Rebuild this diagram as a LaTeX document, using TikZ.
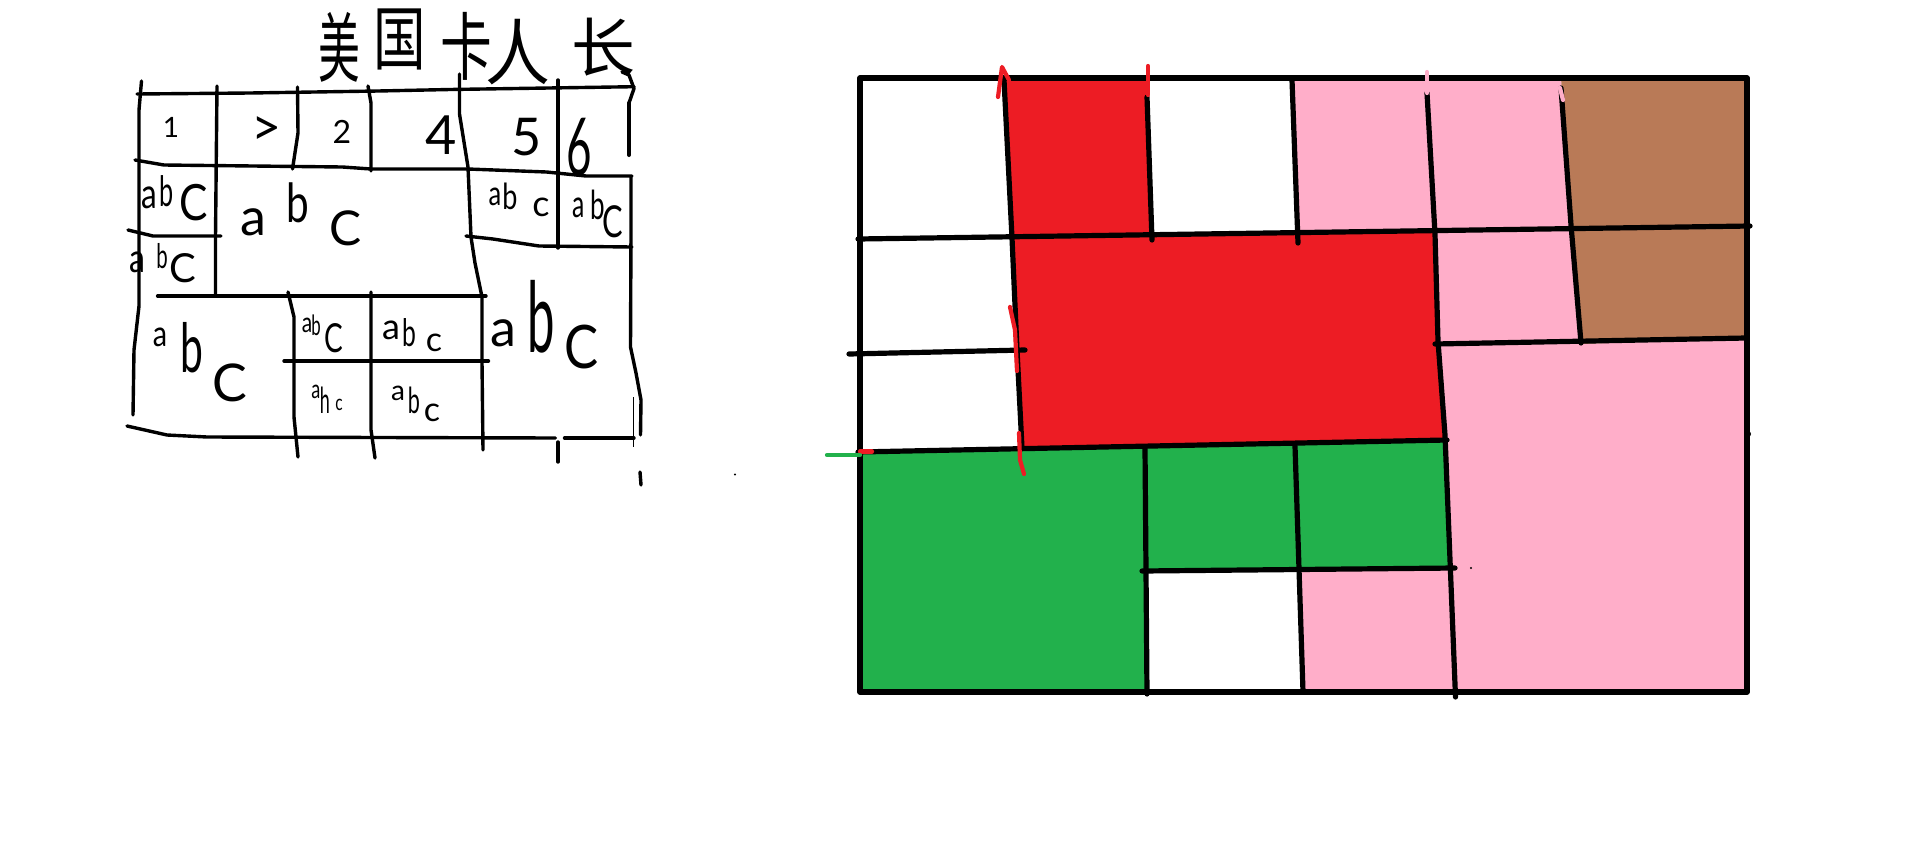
\documentclass[tikz,border=0pt]{standalone}
\usepackage{fontspec}
\usepackage{graphicx}
\setmainfont{Lato}
\newfontfamily\cjk{Noto Sans CJK SC}
\definecolor{pred}{HTML}{ED1C24}
\definecolor{ppink}{HTML}{FFAEC9}
\definecolor{pbrown}{HTML}{B97A57}
\definecolor{pgreen}{HTML}{22B14C}
\newcommand\narrowed[2]{\scalebox{#1}[1]{#2}}
\tikzset{
  ink/.style={black,line width=3.4pt,line cap=round,line join=round},
  thick ink/.style={black,line width=5.2pt,line cap=round,line join=round},
  mark ink/.style={line width=4.2pt,line cap=round,line join=round},
  hand/.style={inner sep=0pt,text=black,font=\fontsize{#1}{#1}\selectfont},
  title/.style={inner sep=0pt,text=black,font=\cjk\fontsize{#1}{#1}\selectfont}
}
\begin{document}
\begin{tikzpicture}[x=1pt,y=-1pt]
\useasboundingbox (0,0) rectangle (1914,841);
\fill[white] (0,0) rectangle (1914,841);

% ---------- left sketch: title
\node[title=76] (t1) at (339,47) {\narrowed{.55}{美}};
\node[title=70] (t2) at (400,39) {\narrowed{.75}{国}};
\node[title=74] (t3) at (466,46) {\narrowed{.7}{卡}};
\node[title=72] (t4) at (518,52) {\narrowed{.9}{人}};
\node[title=64] (t5) at (603,47) {长};

% ---------- left sketch: lines
\draw[ink] (137,94) -- (250,93) -- (378,91) -- (450,89.5) -- (634,86.7);
\draw[ink] (141.5,81) -- (139,110) -- (139,306) -- (134,350) -- (133,415);
\draw[ink] (217,86) -- (215.5,237) -- (215.5,295);
\draw[ink] (297.5,87) -- (298,133) -- (292.5,169);
\draw[ink] (368,86) -- (371,103) -- (371,171);
\draw[ink] (459.5,74) -- (459.5,114) -- (468,167) -- (471,237) -- (475,263) -- (482,297) -- (482,362) -- (483,450);
\draw[ink] (558,80) -- (558,248);
\draw[ink] (622,72) -- (629,75) -- (634,88.5) -- (629,103);
\draw[thick ink,line width=4pt] (629,103) -- (629,155);
\draw[ink] (631,177) -- (631,230) -- (630.5,347) -- (636,373) -- (641,400) -- (640.5,435);
\draw[black,line width=1pt] (633.5,397) -- (633.5,447);
\draw[ink] (640,472) -- (641,485);
\fill[black] (735,474.5) circle (1.2pt);
\draw[ink] (135,160) -- (164,165) -- (342.5,167) -- (371,169) -- (468,169) -- (546.5,172) -- (586,176) -- (632,176);
\draw[ink] (128,230) -- (153,236) -- (221,236);
\draw[ink] (466,236) -- (493,239) -- (539,246) -- (632,247);
\draw[ink] (157.6,296) -- (486,296);
\draw[ink] (288,292) -- (294,317) -- (294,417) -- (298,457);
\draw[ink] (371,292) -- (371,430) -- (375,458);
\draw[ink] (284,361) -- (488.5,361);
\draw[ink] (558,442) -- (558,462);
\draw[ink] (127,426) -- (167,435) -- (207,437) -- (555.5,438);
\draw[ink] (564.5,438) -- (634,438);

% ---------- left sketch: numbers
\node[hand=28] (n1) at (171,127) {1};
\node[hand=52] (n2) at (267,131) {>};
\node[hand=32] (n3) at (342,132) {2};
\node[hand=54] (n4) at (441,135) {4};
\node[hand=52] (n5) at (527,137) {5};
\node[hand=80] (n6) at (579,147) {\narrowed{.55}{6}};

% ---------- left sketch: letters
\node[hand=42] (a1) at (149,198) {\narrowed{.75}{a}};
\node[hand=42] (b1) at (167,191) {\narrowed{.6}{b}};
\node[hand=50] (c1) at (194,203) {\narrowed{.85}{C}};
\node[hand=52] (a2) at (253,222) {a};
\node[hand=54] (b2) at (298,203) {\narrowed{.75}{b}};
\node[hand=48] (c2) at (346,228) {C};
\node[hand=34] (a3) at (495,197) {\narrowed{.75}{a}};
\node[hand=36] (b3) at (510,196) {\narrowed{.75}{b}};
\node[hand=36] (c3) at (541,207) {c};
\node[hand=38] (a4) at (579,208) {\narrowed{.65}{a}};
\node[hand=40] (b4) at (598,205) {\narrowed{.65}{b}};
\node[hand=44] (c4) at (613,222) {\narrowed{.7}{C}};
\node[hand=40] (a5) at (137,262) {\narrowed{.8}{a}};
\node[hand=34] (b5) at (162,256) {\narrowed{.6}{b}};
\node[hand=40] (c5) at (183,268) {C};
\node[hand=36] (a6) at (160,337) {\narrowed{.8}{a}};
\node[hand=68] (b6) at (192,348) {\narrowed{.6}{b}};
\node[hand=52] (c6) at (230,383) {C};
\node[hand=28] (a7) at (307,325) {\narrowed{.75}{a}};
\node[hand=28] (b7) at (316,325) {\narrowed{.6}{b}};
\node[hand=40] (c7) at (334,338) {\narrowed{.7}{C}};
\node[hand=36] (a8) at (391,330) {a};
\node[hand=38] (b8) at (409,333) {\narrowed{.65}{b}};
\node[hand=34] (c8) at (434,343) {c};
\node[hand=26] (a9) at (316,392) {\narrowed{.7}{a}};
\node[hand=36] (b9) at (325,400) {\narrowed{.5}{h}};
\node[hand=22] (c9) at (339,405) {\narrowed{.7}{c}};
\node[hand=28] (a10) at (398,393) {a};
\node[hand=36] (b10) at (414,400) {\narrowed{.6}{b}};
\node[hand=34] (c10) at (432,413) {c};
\node[hand=52] (a11) at (503,333) {a};
\node[hand=98] (b11) at (541,317) {\narrowed{.5}{b}};
\node[hand=60] (c11) at (582,347) {\narrowed{.85}{C}};

% ---------- right panel: fills
\fill[ppink] (1292,78) -- (1561,78) -- (1571,228) -- (1577,228) -- (1581,344) -- (1746,338) -- (1746,692) -- (1303,692) -- (1300,570) -- (1452,568) -- (1443,440) -- (1436,232) -- (1298,232) -- cycle;
\fill[pbrown] (1561,78) -- (1746,78) -- (1746,338) -- (1581,344) -- (1571,228) -- cycle;
\fill[pred] (1004,78) -- (1147,78) -- (1152,236) -- (1298,232) -- (1436,232) -- (1443,440) -- (1022,448) -- (1012,238) -- cycle;
\fill[pgreen] (862,452) -- (1022,448) -- (1443,440) -- (1452,568) -- (1145,571) -- (1147,692) -- (862,692) -- cycle;

% ---------- right panel: lines
\draw[thick ink,line cap=butt,line width=5.6pt] (860,78) rectangle (1747,692);
\draw[thick ink] (1004,80) -- (1012,238) -- (1017,350) -- (1022,448);
\draw[thick ink] (1147,97) -- (1152,240);
\draw[thick ink] (1292,80) -- (1298,243);
\draw[thick ink] (1427,93) -- (1435,234) -- (1438,341) -- (1445,435) -- (1455.5,697);
\draw[thick ink] (1561,88) -- (1571,225) -- (1581,343);
\draw[thick ink] (1145,448) -- (1147,694);
\draw[thick ink] (1295,446) -- (1303,692);
\draw[thick ink] (858,239) -- (1750,226);
\draw[thick ink] (849,354) -- (1025,350);
\draw[thick ink] (1435,344) -- (1746,338);
\draw[thick ink] (858,452) -- (1447,440);
\draw[thick ink] (1142,571) -- (1455,568);
\fill[black] (1748,434) circle (3pt);
\fill[black] (1471,568) circle (1.2pt);

% ---------- right panel: coloured ticks
\draw[mark ink,pred] (998,97) -- (1002,67) -- (1009,80);
\draw[mark ink,pred] (1148,66) -- (1148,95);
\draw[mark ink,ppink] (1427,72) -- (1427,93);
\draw[mark ink,ppink] (1560,88) -- (1563,100);
\draw[mark ink,pred] (1010,307) -- (1015,330) -- (1017,371);
\draw[mark ink,pred] (1019,433) -- (1020,460) -- (1024,474);
\draw[mark ink,pred] (860,451.5) -- (872,451.5);
\draw[mark ink,pgreen] (827,455) -- (860,455);
\end{tikzpicture}
\end{document}
